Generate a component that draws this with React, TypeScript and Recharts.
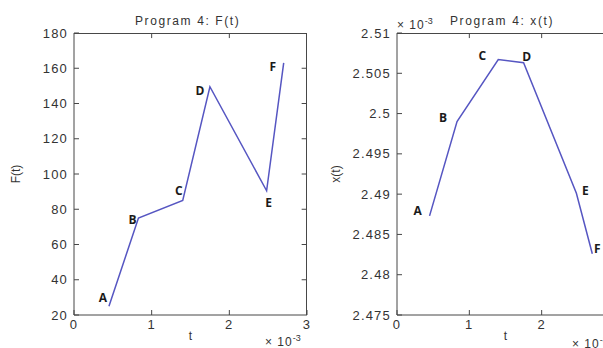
import { LabelList, Line, LineChart, ReferenceLine, XAxis, YAxis } from "recharts";

// time samples (x 10^-3)
const T = [0.45, 0.83, 1.4, 1.75, 2.48, 2.7];
const POINT_NAMES = ["A", "B", "C", "D", "E", "F"];
const F_VALUES = [25, 75, 85, 149.5, 90.5, 163];
const X_VALUES = [2.4873, 2.499, 2.5067, 2.5063, 2.4901, 2.4826];

const T_TICKS = [0, 1, 2, 3];
const F_TICKS = [20, 40, 60, 80, 100, 120, 140, 160, 180];
const X_TICKS = [2.475, 2.48, 2.485, 2.49, 2.495, 2.5, 2.505, 2.51];

const LINE = "#5656c2";
const AXIS = "#474747";
const INK = "#333";
const FONT = "'Liberation Sans', Arial, sans-serif";

const CHART_W = 320;
const CHART_H = 348;
const TOP = 33;
const X_AXIS_H = 30;
const BOTTOM = 3;

// where each letter sits relative to its point
const F_LABEL_OFFSETS: Record<string, [number, number]> = {
  A: [-6, -9],
  B: [-6, 1],
  C: [-4, -10],
  D: [-10, 4],
  E: [2, 12],
  F: [-11, 4],
};
const X_LABEL_OFFSETS: Record<string, [number, number]> = {
  A: [-12, -5],
  B: [-14, -4],
  C: [-16, -4],
  D: [3, -6],
  E: [9, -3],
  F: [5, -5],
};

const fData = T.map((t, i) => ({ t, v: F_VALUES[i], name: POINT_NAMES[i] }));
const xData = T.map((t, i) => ({ t, v: X_VALUES[i], name: POINT_NAMES[i] }));

const tickStyle = { fontSize: 13, fill: INK, fontFamily: FONT, letterSpacing: 1.2 };

function pointLabel(offsets: Record<string, [number, number]>) {
  return (props: any) => {
    const { x, y, value } = props;
    const [dx, dy] = offsets[value] ?? [0, 0];
    return (
      <text
        x={x + dx}
        y={y + dy}
        textAnchor="middle"
        dominantBaseline="central"
        fontFamily="'Open Sans', Lato, sans-serif"
        fontWeight={700}
        fontSize={12}
        fill="#1a1a1a"
      >
        {value}
      </text>
    );
  };
}

interface PanelProps {
  data: { t: number; v: number; name: string }[];
  yDomain: [number, number];
  yTicks: number[];
  yLabel: string;
  yAxisWidth: number;
  marginRight: number;
  offsets: Record<string, [number, number]>;
}

function Panel({ data, yDomain, yTicks, yLabel, yAxisWidth, marginRight, offsets }: PanelProps) {
  const [yMin, yMax] = yDomain;
  const tMax = T_TICKS[T_TICKS.length - 1];
  // inward tick length for the top / right frame, about 5px
  const yTickLen = (yMax - yMin) * 0.018;
  const tTickLen = tMax * 0.023;
  return (
    <div style={{ position: "relative", width: CHART_W, height: CHART_H }}>
      <LineChart
        width={CHART_W}
        height={CHART_H}
        data={data}
        margin={{ top: TOP, right: marginRight, bottom: BOTTOM, left: 0 }}
      >
        <XAxis
          dataKey="t"
          type="number"
          domain={[0, tMax]}
          ticks={T_TICKS}
          interval={0}
          height={X_AXIS_H}
          stroke={AXIS}
          tickSize={-5}
          tickMargin={10}
          tick={tickStyle}
          label={{ value: "t", position: "insideBottom", offset: 5, fill: INK, fontSize: 12, fontFamily: FONT }}
        />
        <YAxis
          type="number"
          domain={yDomain}
          ticks={yTicks}
          interval={0}
          width={yAxisWidth}
          stroke={AXIS}
          tickSize={-5}
          tickMargin={11}
          tick={tickStyle}
          tickFormatter={(v: number) => String(v)}
          label={{
            value: yLabel,
            angle: -90,
            position: "insideLeft",
            offset: 16,
            fill: INK,
            fontSize: 12,
            fontFamily: FONT,
            style: { textAnchor: "middle" },
          }}
        />
        {T_TICKS.slice(1, -1).map((t) => (
          <ReferenceLine
            key={`tt${t}`}
            segment={[{ x: t, y: yMax }, { x: t, y: yMax - yTickLen }]}
            stroke={AXIS}
            ifOverflow="visible"
          />
        ))}
        {yTicks.slice(1, -1).map((v) => (
          <ReferenceLine
            key={`ty${v}`}
            segment={[{ x: tMax, y: v }, { x: tMax - tTickLen, y: v }]}
            stroke={AXIS}
            ifOverflow="visible"
          />
        ))}
        <Line
          type="linear"
          dataKey="v"
          stroke={LINE}
          strokeWidth={1.5}
          dot={false}
          isAnimationActive={false}
        >
          <LabelList dataKey="name" content={pointLabel(offsets)} />
        </Line>
      </LineChart>
      {/* top and right edges of the MATLAB box */}
      <div
        style={{
          position: "absolute",
          left: yAxisWidth,
          top: TOP,
          right: marginRight,
          bottom: BOTTOM + X_AXIS_H,
          borderTop: `1px solid ${AXIS}`,
          borderRight: `1px solid ${AXIS}`,
          pointerEvents: "none",
        }}
      />
    </div>
  );
}

const textBase = {
  position: "absolute" as const,
  fontFamily: FONT,
  color: INK,
  whiteSpace: "nowrap" as const,
  lineHeight: 1,
};

function Exponent({ left, top }: { left: number; top: number }) {
  return (
    <div style={{ ...textBase, left, top, fontSize: 12, letterSpacing: 1 }}>
      × 10<sup style={{ fontSize: 9, verticalAlign: 5, letterSpacing: 0 }}>-3</sup>
    </div>
  );
}

export default function App() {
  return (
    <div
      style={{
        position: "absolute",
        left: 0,
        top: 0,
        width: 603,
        height: 348,
        overflow: "hidden",
        background: "#fff",
      }}
    >
      <div style={{ position: "absolute", left: 0, top: 0 }}>
        <Panel
          data={fData}
          yDomain={[20, 180]}
          yTicks={F_TICKS}
          yLabel="F(t)"
          yAxisWidth={74}
          marginRight={13}
          offsets={F_LABEL_OFFSETS}
        />
      </div>
      <div style={{ position: "absolute", left: 320, top: 0 }}>
        <Panel
          data={xData}
          yDomain={[2.475, 2.51]}
          yTicks={X_TICKS}
          yLabel="x(t)"
          yAxisWidth={77}
          marginRight={26}
          offsets={X_LABEL_OFFSETS}
        />
      </div>
      <div style={{ ...textBase, left: 135, top: 15, fontSize: 12, letterSpacing: 1.6 }}>
        Program 4: F(t)
      </div>
      <div style={{ ...textBase, left: 450, top: 15, fontSize: 12, letterSpacing: 1.6 }}>
        Program 4: x(t)
      </div>
      <Exponent left={265} top={334} />
      <Exponent left={397} top={17} />
      <Exponent left={572} top={336} />
    </div>
  );
}
